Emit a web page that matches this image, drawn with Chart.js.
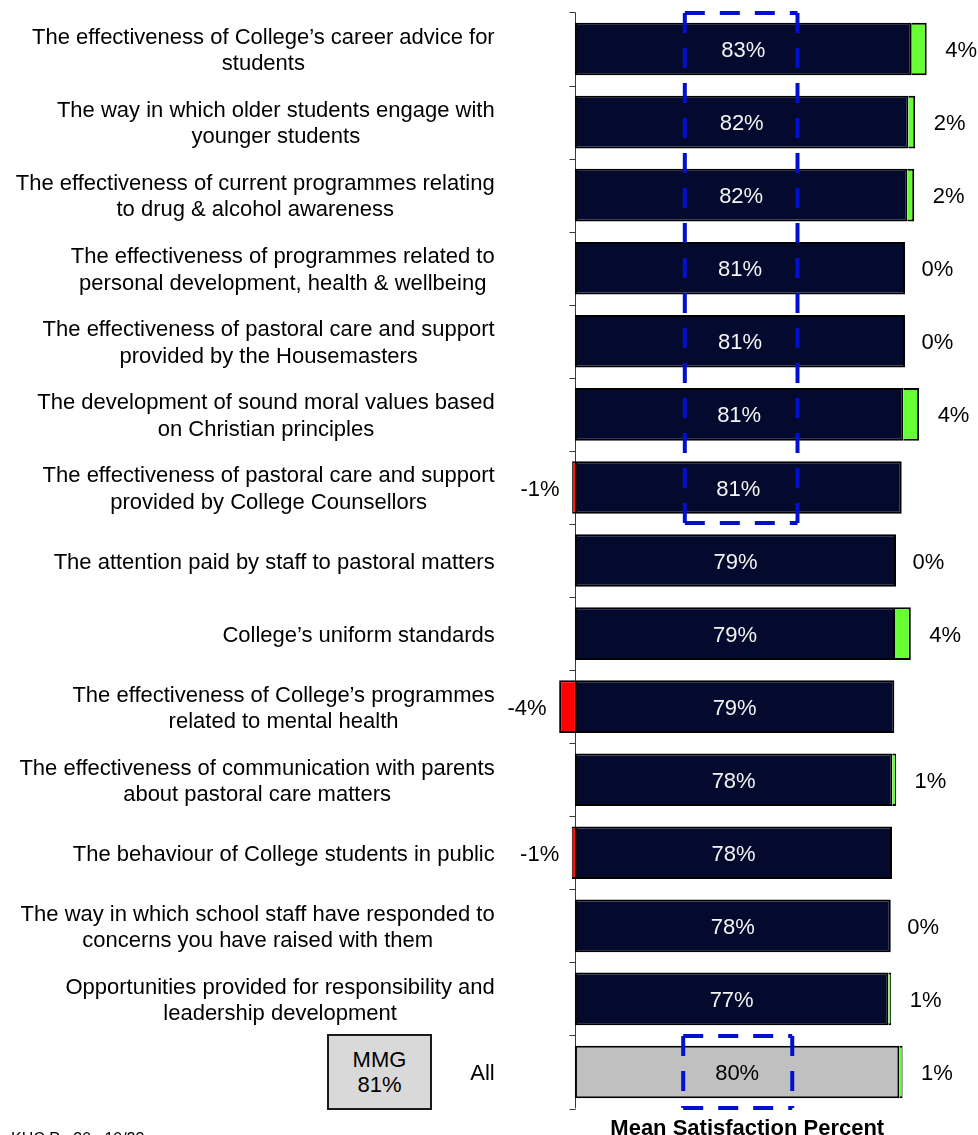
<!DOCTYPE html>
<html><head><meta charset="utf-8">
<script src="https://cdn.jsdelivr.net/npm/chart.js@4.4.0/dist/chart.umd.min.js"></script>
<style>
html,body{margin:0;padding:0;background:#fff;}
#wrap{position:relative;width:978px;height:1135px;overflow:hidden;font-family:"Liberation Sans",Arial,sans-serif;}
#mmg{position:absolute;left:327px;top:1034px;width:101px;height:72px;border:2px solid #1a1a1a;background:#d9d9d9;display:flex;flex-direction:column;justify-content:center;align-items:center;font-size:22px;line-height:25px;color:#000;}
#note{position:absolute;left:11px;top:1131px;font-size:16px;line-height:16px;white-space:pre;color:#000;}
</style></head><body>
<div id="wrap"><canvas id="c" width="978" height="1135"></canvas>
<div id="mmg"><div>MMG</div><div>81%</div></div>
<div id="note">KHC Pg 30   10/23</div>
</div>
<script>
const categories = [
  ["The effectiveness of College’s career advice for", "students"],
  ["The way in which older students engage with", "younger students"],
  ["The effectiveness of current programmes relating", "to drug & alcohol awareness"],
  ["The effectiveness of programmes related to", "personal development, health & wellbeing"],
  ["The effectiveness of pastoral care and support", "provided by the Housemasters"],
  ["The development of sound moral values based", "on Christian principles"],
  ["The effectiveness of pastoral care and support", "provided by College Counsellors"],
  "The attention paid by staff to pastoral matters",
  "College’s uniform standards",
  ["The effectiveness of College’s programmes", "related to mental health"],
  ["The effectiveness of communication with parents", "about pastoral care matters"],
  "The behaviour of College students in public",
  ["The way in which school staff have responded to", "concerns you have raised with them"],
  ["Opportunities provided for responsibility and", "leadership development"],
  "All"
];
const scores  = [83.07, 82.24, 81.99, 81.42, 81.42, 81.0, 80.6, 79.2, 78.95, 78.78, 78.29, 78.21, 77.9, 77.3, 80.02];
const changes = [3.7, 1.7, 1.7, 0, 0, 3.9, -0.7, 0, 3.9, -3.9, 0.9, -0.8, 0, 0.7, 0.8];
const xTitle = "Mean Satisfaction Percent";

const gains = changes.map(v => v > 0 ? v : 0);
const losses = changes.map(v => v < 0 ? v : 0);
const FONT = '"Liberation Sans", Arial, sans-serif';
const NAVY = '#040a2e', GREY = '#c0c0c0', GREEN = '#66ff33', RED = '#ff0000';
const TEXT_DY = 2;

function dashedBox(ctx, x1, y1, x2, y2) {
  ctx.save();
  ctx.strokeStyle = '#0010cc';
  ctx.lineWidth = 4;
  ctx.setLineDash([20, 15]);
  [[x1, y1, x2, y1], [x1, y1, x1, y2], [x2, y1, x2, y2], [x1, y2, x2, y2]].forEach(s => {
    ctx.beginPath(); ctx.moveTo(s[0], s[1]); ctx.lineTo(s[2], s[3]); ctx.stroke();
  });
  ctx.restore();
}

const decor = {
  id: 'decor',
  beforeDatasetsDraw(chart) {
    const {ctx, scales: {x, y}} = chart;
    const x0 = Math.round(x.getPixelForValue(0)) + 0.5;
    const step = y.getPixelForValue(1) - y.getPixelForValue(0);
    const top = y.getPixelForValue(0) - step / 2;
    ctx.save();
    ctx.strokeStyle = '#3a3a3a';
    ctx.lineWidth = 1;
    ctx.beginPath();
    ctx.moveTo(x0, top);
    ctx.lineTo(x0, top + step * categories.length);
    for (let i = 0; i <= categories.length; i++) {
      const yy = Math.round(top + i * step) + 0.5;
      ctx.moveTo(x0 - 6, yy); ctx.lineTo(x0, yy);
    }
    ctx.stroke();
    ctx.restore();
  },
  afterDatasetsDraw(chart) {
    const {ctx, scales: {x, y}} = chart;
    const baseMeta = chart.getDatasetMeta(0);
    const gainMeta = chart.getDatasetMeta(1);
    const lossMeta = chart.getDatasetMeta(2);
    const step = y.getPixelForValue(1) - y.getPixelForValue(0);
    const labelRight = x.left - 60;
    ctx.save();
    ctx.font = '22px ' + FONT;
    ctx.textBaseline = 'middle';
    categories.forEach((cat, i) => {
      const yc = y.getPixelForValue(i) + TEXT_DY;
      const lines = Array.isArray(cat) ? cat : [cat];
      const w = Math.max(...lines.map(l => ctx.measureText(l).width));
      ctx.fillStyle = '#000';
      ctx.textAlign = 'center';
      lines.forEach((l, j) => {
        ctx.fillText(l, labelRight - w / 2, yc + (j - (lines.length - 1) / 2) * 26.4);
      });
      const b = baseMeta.data[i];
      ctx.fillStyle = i === categories.length - 1 ? '#000' : '#f4f4f4';
      ctx.fillText(Math.round(scores[i]) + '%', (b.x + b.base) / 2, yc);
      const c = Math.round(changes[i]);
      ctx.fillStyle = '#000';
      if (changes[i] < 0) {
        const r = lossMeta.data[i];
        ctx.textAlign = 'right';
        ctx.fillText(c + '%', Math.min(r.x, r.base) - 12.5, yc);
      } else {
        const g = gainMeta.data[i];
        ctx.textAlign = 'left';
        ctx.fillText(c + '%', Math.max(g.x, b.x) + (changes[i] > 0 ? 18.5 : 16.5), yc);
      }
    });
    ctx.restore();
    const t0 = y.getPixelForValue(0) - step / 2;
    dashedBox(ctx, x.getPixelForValue(27.1), t0 + 0.5, x.getPixelForValue(54.9), t0 + 7 * step - 1);
    const t14 = y.getPixelForValue(14) - step / 2;
    dashedBox(ctx, x.getPixelForValue(26.7), t14 + 0.5, x.getPixelForValue(53.6), t14 + step - 0.5);
  }
};

new Chart(document.getElementById('c'), {
  type: 'bar',
  data: {
    labels: categories,
    datasets: [
      {
        data: scores,
        backgroundColor: scores.map((v, i) => i === scores.length - 1 ? GREY : NAVY),
        borderColor: '#000',
        borderWidth: 2,
        borderSkipped: false
      },
      {
        data: gains,
        backgroundColor: GREEN,
        borderColor: '#000',
        borderSkipped: false,
        borderWidth: c => (Math.abs(c.raw) < 1.5 ? {top: 2, bottom: 2, left: 0, right: 1} : {top: 2, bottom: 2, left: 0, right: 2})
      },
      {
        data: losses,
        backgroundColor: RED,
        borderColor: '#000',
        borderSkipped: false,
        borderWidth: c => (Math.abs(c.raw) < 1.5 ? {top: 2, bottom: 2, left: 1, right: 0} : {top: 2, bottom: 2, left: 2, right: 0})
      }
    ]
  },
  options: {
    indexAxis: 'y',
    responsive: false,
    animation: false,
    events: [],
    layout: {padding: {left: 554.7, right: 38.2, top: 12.5, bottom: 0}},
    plugins: {legend: {display: false}, tooltip: {enabled: false}},
    scales: {
      x: {
        type: 'linear', min: -5, max: 90, stacked: true,
        ticks: {display: false},
        grid: {display: false, drawTicks: false},
        border: {display: false},
        title: {display: true, text: xTitle, color: '#000',
          font: {family: FONT, size: 22, weight: 'bold', lineHeight: 0.54},
          padding: {top: 14.6, bottom: 0}}
      },
      y: {
        stacked: true, display: false
      }
    }
  },
  plugins: [decor]
});
</script>
</body></html>
